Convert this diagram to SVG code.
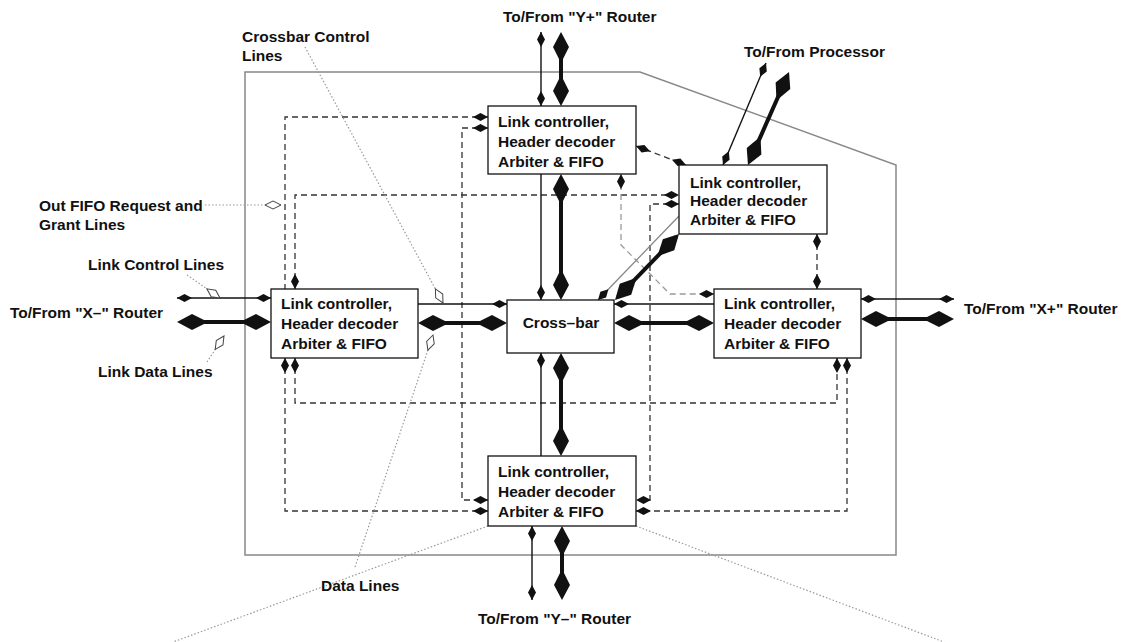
<svg xmlns="http://www.w3.org/2000/svg" width="1125" height="642" viewBox="0 0 1125 642">
<style>
text{font-family:"Liberation Sans",Arial,Helvetica,sans-serif;font-weight:bold;font-size:15.5px;fill:#111}
.box{fill:#fff;stroke:#111;stroke-width:1.3}
.thin{fill:none;stroke:#111;stroke-width:1.4}
.thick{fill:none;stroke:#111;stroke-width:4}
.dash{fill:none;stroke:#333;stroke-width:1.3;stroke-dasharray:6 4}
.gdash{fill:none;stroke:#999;stroke-width:1.3;stroke-dasharray:6 4}
.gline{fill:none;stroke:#888;stroke-width:1.3}
.dot{fill:none;stroke:#999;stroke-width:1.2;stroke-dasharray:1.5 2}
.frame{fill:none;stroke:#888;stroke-width:1.5}
</style>
<defs>
<marker id="sd" markerUnits="userSpaceOnUse" orient="auto-start-reverse" overflow="visible" refX="0" refY="0" markerWidth="16" markerHeight="10"><path d="M0,0 L-7.5,-4 L-15,0 L-7.5,4 Z" fill="#111"/></marker>
<marker id="bd" markerUnits="userSpaceOnUse" orient="auto-start-reverse" overflow="visible" refX="-4" refY="0" markerWidth="32" markerHeight="18"><path d="M0,0 L-15,-8 L-31,0 L-15,8 Z" fill="#111"/></marker>
<marker id="od" markerUnits="userSpaceOnUse" orient="auto" overflow="visible" refX="0" refY="0" markerWidth="18" markerHeight="10"><path d="M0,0 L-8,-4 L-16,0 L-8,4 Z" fill="#fff" stroke="#444" stroke-width="1"/></marker>
</defs>

<path id="enclosure" class="frame" d="M245,72 H640 L896,165 V555 H245 Z"/>

<g id="connectors">
  <!-- dashed request/grant lines -->
  <path class="dash" d="M488,117 H285 V289" marker-start="url(#sd)"/>
  <path class="dash" d="M285,358 V511 H488" marker-start="url(#sd)" marker-end="url(#sd)"/>
  <path class="dash" d="M295,289 V195 H679" marker-start="url(#sd)" marker-end="url(#sd)"/>
  <path class="dash" d="M295,358 V403 H837 V358" marker-start="url(#sd)" marker-end="url(#sd)"/>
  <path class="dash" d="M488,128 H462 V500 H488" marker-start="url(#sd)" marker-end="url(#sd)"/>
  <path class="dash" d="M679,204 H650 V500 H636" marker-start="url(#sd)" marker-end="url(#sd)"/>
  <path class="dash" d="M847,358 V511 H636" marker-start="url(#sd)" marker-end="url(#sd)"/>
  <path class="dash" d="M817,234 V289" marker-start="url(#sd)" marker-end="url(#sd)"/>
  <path class="dash" d="M636,146 L686,165" marker-start="url(#sd)" marker-end="url(#sd)"/>
  <path class="gdash" d="M621,174 V245 L670,294 H714" marker-start="url(#sd)" marker-end="url(#sd)"/>

  <!-- Y+ router -->
  <path class="thin" d="M541,32 V106" marker-start="url(#sd)" marker-end="url(#sd)"/>
  <path class="thick" d="M561,36 V102" marker-start="url(#bd)" marker-end="url(#bd)"/>
  <!-- top box to crossbar -->
  <path class="thin" d="M541,174 V300" marker-end="url(#sd)"/>
  <path class="thick" d="M561,178 V296" marker-start="url(#bd)" marker-end="url(#bd)"/>
  <!-- bottom box to crossbar -->
  <path class="thin" d="M541,456 V353" marker-end="url(#sd)"/>
  <path class="thick" d="M561,452 V357" marker-start="url(#bd)" marker-end="url(#bd)"/>
  <!-- Y- router -->
  <path class="thin" d="M532,526 V600" marker-start="url(#sd)" marker-end="url(#sd)"/>
  <path class="thick" d="M562,530 V596" marker-start="url(#bd)" marker-end="url(#bd)"/>
  <!-- left box to crossbar -->
  <path class="thin" d="M418,304 H507" marker-end="url(#sd)"/>
  <path class="thick" d="M422,323 H503" marker-start="url(#bd)" marker-end="url(#bd)"/>
  <!-- right box to crossbar -->
  <path class="thin" d="M714,304 H614" marker-end="url(#sd)"/>
  <path class="thick" d="M710,323 H618" marker-start="url(#bd)" marker-end="url(#bd)"/>
  <!-- X- router -->
  <path class="thin" d="M177,298 H271" marker-start="url(#sd)" marker-end="url(#sd)"/>
  <path class="thick" d="M181,322 H267" marker-start="url(#bd)" marker-end="url(#bd)"/>
  <!-- X+ router -->
  <path class="thin" d="M861,299 H954" marker-start="url(#sd)" marker-end="url(#sd)"/>
  <path class="thick" d="M865,319 H950" marker-start="url(#bd)" marker-end="url(#bd)"/>
  <!-- processor -->
  <path class="thin" d="M723,165 L766,63" marker-start="url(#sd)" marker-end="url(#sd)"/>
  <path class="thick" d="M749.6,161.3 L787.4,75.7" marker-start="url(#bd)" marker-end="url(#bd)"/>
  <!-- processor box to crossbar -->
  <path class="gline" d="M679,216 L598,300" marker-end="url(#sd)"/>
  <path class="thick" d="M676.2,236.9 L617.8,297.1" marker-start="url(#bd)" marker-end="url(#bd)"/>

  <!-- dotted pointer lines -->
  <path class="dot" d="M305,47 L443,303" marker-end="url(#od)"/>
  <path class="dot" d="M205,205 H281" marker-end="url(#od)"/>
  <path class="dot" d="M187,275 L220,298" marker-end="url(#od)"/>
  <path class="dot" d="M207,362 L224,336" marker-end="url(#od)"/>
  <path class="dot" d="M355,567 L433,335" marker-end="url(#od)"/>
  <path class="dot" d="M488,526 L173,642"/>
  <path class="dot" d="M636,526 L944,642"/>
</g>

<g id="node-top">
  <rect class="box" x="488" y="106" width="148" height="68"/>
  <text x="498" y="126.5">Link controller,</text>
  <text x="498" y="146.5">Header decoder</text>
  <text x="498" y="166.5">Arbiter &amp; FIFO</text>
</g>
<g id="node-proc">
  <rect class="box" x="679" y="165" width="148" height="69"/>
  <text x="690" y="187.5">Link controller,</text>
  <text x="690" y="206">Header decoder</text>
  <text x="690" y="225">Arbiter &amp; FIFO</text>
</g>
<g id="node-left">
  <rect class="box" x="271" y="289" width="147" height="69"/>
  <text x="281" y="309">Link controller,</text>
  <text x="281" y="328.5">Header decoder</text>
  <text x="281" y="348.5">Arbiter &amp; FIFO</text>
</g>
<g id="node-crossbar">
  <rect class="box" x="507" y="300" width="107" height="53"/>
  <text x="561" y="328" text-anchor="middle">Cross–bar</text>
</g>
<g id="node-right">
  <rect class="box" x="714" y="289" width="147" height="69"/>
  <text x="724" y="309">Link controller,</text>
  <text x="724" y="328.5">Header decoder</text>
  <text x="724" y="348.5">Arbiter &amp; FIFO</text>
</g>
<g id="node-bottom">
  <rect class="box" x="488" y="456" width="148" height="70"/>
  <text x="498" y="476.5">Link controller,</text>
  <text x="498" y="496.5">Header decoder</text>
  <text x="498" y="516.5">Arbiter &amp; FIFO</text>
</g>

<g id="labels">
  <text x="503" y="22">To/From "Y+" Router</text>
  <text x="242" y="42">Crossbar Control</text>
  <text x="242" y="61">Lines</text>
  <text x="744" y="57">To/From Processor</text>
  <text x="39" y="211">Out FIFO Request and</text>
  <text x="39" y="230">Grant Lines</text>
  <text x="88" y="270">Link Control Lines</text>
  <text x="10" y="318">To/From "X–" Router</text>
  <text x="98" y="377">Link Data Lines</text>
  <text x="964" y="314">To/From "X+" Router</text>
  <text x="321" y="591">Data Lines</text>
  <text x="478" y="624">To/From "Y–" Router</text>
</g>
</svg>
